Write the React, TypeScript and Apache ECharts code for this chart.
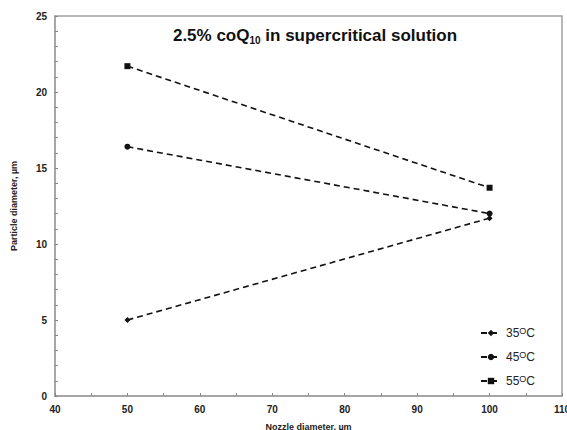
import React, { useEffect, useRef } from "react";
import * as echarts from "echarts";

const nozzle = [50, 100];
const t35 = [5.0, 11.7];
const t45 = [16.4, 12.0];
const t55 = [21.7, 13.7];
const seriesNames = ["35", "45", "55"];

export default function App() {
  const ref = useRef<HTMLDivElement>(null);
  useEffect(() => {
    if (!ref.current) return;
    const chart = echarts.init(ref.current, undefined, { renderer: "svg" });
    const font = "Liberation Sans, Arial, sans-serif";
    const mk = (name: string, vals: number[], symbol: string, size: number) => ({
      name,
      type: "line",
      data: nozzle.map((x, i) => [x, vals[i]]),
      symbol,
      symbolSize: size,
      showSymbol: true,
      itemStyle: { color: "#111" },
      lineStyle: { color: "#111", width: 1.6, type: [6, 4] },
    });
    chart.setOption({
      animation: false,
      backgroundColor: "#fff",
      grid: {
        left: 55,
        right: 5,
        top: 16,
        bottom: 34,
        outerBoundsMode: "none",
        containLabel: false,
        show: true,
        borderColor: "#a0a0a0",
        borderWidth: 1.5,
      },
      graphic: [
        {
          type: "text",
          x: 315,
          y: 35,
          style: {
            text: "{a|2.5% coQ}{sub|10}{a| in supercritical solution}",
            align: "center",
            verticalAlign: "middle",
            rich: {
              a: { fontFamily: font, fontWeight: "bold", fontSize: 17, fill: "#111" },
              sub: { fontFamily: font, fontWeight: "bold", fontSize: 10, fill: "#111", padding: [10, 0, 0, 0] },
            },
          },
        },
      ],
      legend: {
        orient: "vertical",
        right: 27,
        top: 321,
        itemWidth: 20,
        itemHeight: 8,
        itemGap: 11,
        data: seriesNames,
        formatter: (n: string) => `{a|${n}}{sup|O}{a|C}`,
        textStyle: {
          rich: {
            a: { fontFamily: font, fontSize: 12, color: "#222" },
            sup: { fontFamily: font, fontSize: 9, color: "#222", padding: [0, 0, 5, 0] },
          },
        },
      },
      xAxis: {
        type: "value",
        min: 40,
        max: 110,
        interval: 10,
        name: "Nozzle diameter, µm",
        nameLocation: "middle",
        nameGap: 26,
        nameTextStyle: { fontFamily: font, fontSize: 9, fontWeight: "bold", color: "#222" },
        axisLine: { show: true, lineStyle: { color: "#a0a0a0", width: 1.5 } },
        axisTick: { show: true, inside: true, length: 3, lineStyle: { color: "#888" } },
        minorTick: { show: true, splitNumber: 2, length: 3, lineStyle: { color: "#888" } },
        splitLine: { show: false },
        axisLabel: { fontFamily: font, fontSize: 10, fontWeight: "bold", color: "#222", margin: 8 },
      },
      yAxis: {
        type: "value",
        min: 0,
        max: 25,
        interval: 5,
        name: "Particle diameter, µm",
        nameLocation: "middle",
        nameGap: 37,
        nameTextStyle: { fontFamily: font, fontSize: 9, fontWeight: "bold", color: "#222" },
        axisLine: { show: true, lineStyle: { color: "#a0a0a0", width: 1.5 } },
        axisTick: { show: true, inside: true, length: 3, lineStyle: { color: "#888" } },
        minorTick: { show: true, splitNumber: 5, length: 3, lineStyle: { color: "#888" } },
        splitLine: { show: false },
        axisLabel: { fontFamily: font, fontSize: 10, fontWeight: "bold", color: "#222", margin: 8 },
      },
      series: [
        mk("35", t35, "diamond", 6),
        mk("45", t45, "circle", 6),
        mk("55", t55, "rect", 6),
      ],
    });
    return () => chart.dispose();
  }, []);
  return <div ref={ref} style={{ width: 567, height: 430, position: "absolute", left: 0, top: 0 }} />;
}
